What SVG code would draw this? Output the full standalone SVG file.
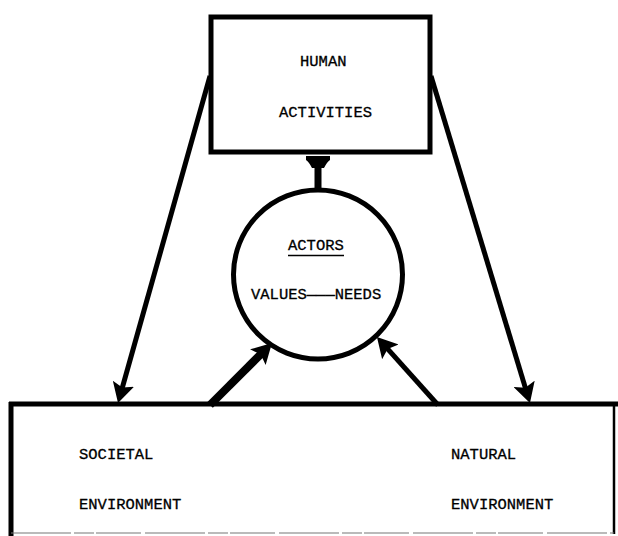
<svg xmlns="http://www.w3.org/2000/svg" width="618" height="536" viewBox="0 0 618 536">
  <style>
    .lbl { font-family: "Liberation Mono", "Courier New", monospace; font-size: 15.5px; fill: #000; stroke: #000; stroke-width: 0.3; }
    .box { fill: none; stroke: #000; stroke-width: 5; }
    .conn { stroke: #000; fill: none; stroke-linecap: butt; }
  </style>
  <defs>
    <marker id="head" viewBox="0 0 20 22" markerUnits="userSpaceOnUse" markerWidth="20" markerHeight="22" refX="6" refY="11" orient="auto">
      <path d="M0,0 L20,11 L0,22 L4,11 Z" fill="#000"/>
    </marker>
    <marker id="headShort" viewBox="0 0 12 24" markerUnits="userSpaceOnUse" markerWidth="12" markerHeight="24" refX="3" refY="12" orient="auto">
      <path d="M0,6 Q6,3 8,0 L12,0 L12,24 L8,24 Q6,21 0,18 Z" fill="#000"/>
    </marker>
  </defs>

  <rect width="618" height="536" fill="#fff"/>

  <!-- connectors -->
  <g id="connectors">
    <line class="conn" x1="210" y1="76" x2="121.8" y2="389.5" stroke-width="5" marker-end="url(#head)"/>
    <line class="conn" x1="431" y1="76" x2="525.9" y2="389.6" stroke-width="5" marker-end="url(#head)"/>
    <line class="conn" x1="318" y1="190" x2="318" y2="165" stroke-width="7" marker-end="url(#headShort)"/>
    <line class="conn" x1="210" y1="405" x2="262.1" y2="352.9" stroke-width="8" marker-end="url(#head)"/>
    <line class="conn" x1="438" y1="405" x2="386.3" y2="347.4" stroke-width="5" marker-end="url(#head)"/>
  </g>

  <!-- human activities -->
  <g id="human-activities">
    <rect class="box" x="211" y="17" width="219" height="135" fill="#fff"/>
    <text class="lbl" x="300" y="66">HUMAN</text>
    <text class="lbl" x="279" y="117">ACTIVITIES</text>
  </g>

  <!-- actors -->
  <g id="actors">
    <circle cx="318" cy="274.5" r="84.5" fill="none" stroke="#000" stroke-width="5"/>
    <text class="lbl" x="288" y="250">ACTORS</text>
    <line x1="288" y1="255.5" x2="344" y2="255.5" stroke="#000" stroke-width="1.5"/>
    <text class="lbl" x="251" y="299">VALUES———NEEDS</text>
  </g>

  <!-- environment -->
  <g id="environment">
    <line x1="9" y1="404" x2="618" y2="404" stroke="#000" stroke-width="5"/>
    <line x1="11" y1="402" x2="11" y2="536" stroke="#000" stroke-width="5"/>
    <line x1="614" y1="404" x2="614" y2="534" stroke="#000" stroke-width="2.5"/>
    <line x1="11" y1="533" x2="614" y2="533" stroke="#777" stroke-width="1.2" stroke-dasharray="60 3 20 2 45 4"/>
    <text class="lbl" x="79" y="459">SOCIETAL</text>
    <text class="lbl" x="79" y="509">ENVIRONMENT</text>
    <text class="lbl" x="451" y="459">NATURAL</text>
    <text class="lbl" x="451" y="509">ENVIRONMENT</text>
  </g>
</svg>
